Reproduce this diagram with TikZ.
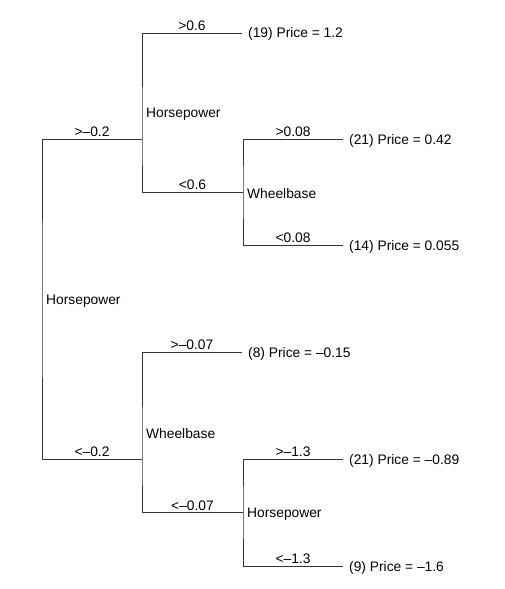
\documentclass[tikz,border=0pt]{standalone}
\usepackage{fontspec}
\setmainfont{Liberation Sans}
\begin{document}
\begin{tikzpicture}[x=1pt,y=-1pt,
  branch/.style={draw=black!80, line width=0.9pt},
  cut/.style={above, inner sep=1.5pt, font=\fontsize{13.8}{16}\selectfont},
  splitlabel/.style={anchor=west, inner sep=4pt, yshift=-2pt, font=\fontsize{13.8}{16}\selectfont},
  leaf/.style={anchor=west, inner xsep=6pt, inner ysep=0pt, text depth=0pt, font=\fontsize{13.8}{16}\selectfont}]
\useasboundingbox (0,0) rectangle (505,589);
% split points
\coordinate (root) at (42,299);
\coordinate (hpA) at (142,139);
\coordinate (wbA) at (243,192);
\coordinate (wbB) at (142,459);
\coordinate (hpB) at (243,512.5);
% leaves
\node[leaf] (p19) at (242,33) {(19) Price = 1.2};
\node[leaf] (p21a) at (343,139) {(21) Price = 0.42};
\node[leaf] (p14) at (343,245) {(14) Price = 0.055};
\node[leaf] (p8) at (242,352) {(8) Price = –0.15};
\node[leaf] (p21b) at (343,459) {(21) Price = –0.89};
\node[leaf] (p9) at (343,566) {(9) Price = –1.6};
% split labels
\node[splitlabel] (lroot) at (42,299) {Horsepower};
\node[splitlabel] (lhpA) at (142,112.5) {Horsepower};
\node[splitlabel] (lwbA) at (243,192) {Wheelbase};
\node[splitlabel] (lwbB) at (142,432) {Wheelbase};
\node[splitlabel] (lhpB) at (243,512.5) {Horsepower};
% branches
\draw[branch] (hpA) -| node[cut,pos=0.25]{>–0.2} (root) |- node[cut,pos=0.75]{<–0.2} (wbB);
\draw[branch] (p19.west) -| node[cut,pos=0.25]{>0.6} (hpA) |- node[cut,pos=0.75]{<0.6} (wbA);
\draw[branch] (p21a.west) -| node[cut,pos=0.25]{>0.08} (wbA) |- node[cut,pos=0.75]{<0.08} (p14.west);
\draw[branch] (p8.west) -| node[cut,pos=0.25]{>–0.07} (wbB) |- node[cut,pos=0.75]{<–0.07} (hpB);
\draw[branch] (p21b.west) -| node[cut,pos=0.25]{>–1.3} (hpB) |- node[cut,pos=0.75]{<–1.3} (p9.west);
\end{tikzpicture}
\end{document}
